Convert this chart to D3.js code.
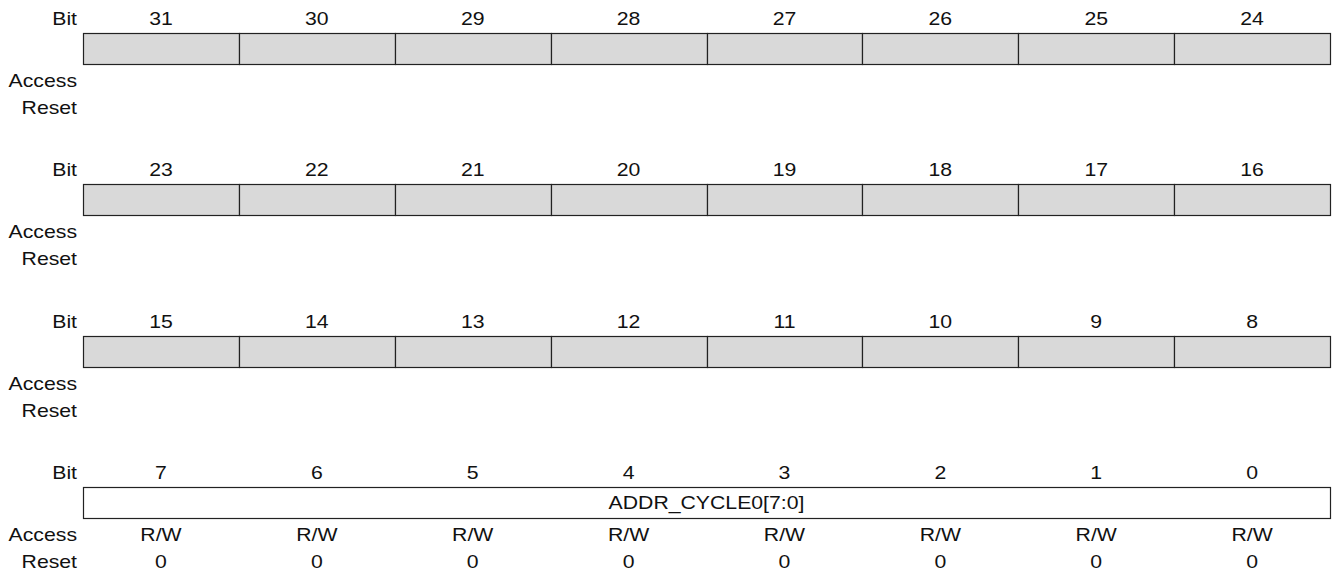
<!DOCTYPE html>
<html>
<head>
<meta charset="utf-8">
<script src="https://cdn.jsdelivr.net/npm/d3@7"></script>
<style>
  html, body { margin: 0; padding: 0; background: #fff; }
  svg { display: block; font-family: "Liberation Sans", Arial, sans-serif; }
</style>
</head>
<body>
<svg id="chart" width="1333" height="575"></svg>
<script>
// ---- data ----
const rowLabels = ["Bit", "Access", "Reset"];
const byteRows = [0, 1, 2, 3];                 // section index (top to bottom)
const bitNumbers = [
  [31, 30, 29, 28, 27, 26, 25, 24],
  [23, 22, 21, 20, 19, 18, 17, 16],
  [15, 14, 13, 12, 11, 10, 9, 8],
  [7, 6, 5, 4, 3, 2, 1, 0]
];
// fields per section: name, start column, span; reserved = gray unused cell
const reservedRow = [0, 1, 2, 3, 4, 5, 6, 7].map(c => ({name: "", col: c, span: 1, reserved: true}));
const fields = [
  reservedRow,
  reservedRow,
  reservedRow,
  [{name: "ADDR_CYCLE0[7:0]", col: 0, span: 8, reserved: false}]
];
const accessValues = [
  ["", "", "", "", "", "", "", ""],
  ["", "", "", "", "", "", "", ""],
  ["", "", "", "", "", "", "", ""],
  ["R/W", "R/W", "R/W", "R/W", "R/W", "R/W", "R/W", "R/W"]
];
const resetValues = [
  ["", "", "", "", "", "", "", ""],
  ["", "", "", "", "", "", "", ""],
  ["", "", "", "", "", "", "", ""],
  ["0", "0", "0", "0", "0", "0", "0", "0"]
];

// ---- layout ----
const svg = d3.select("#chart");
const left = 83, right = 1330;
const labelX = 77;
const fontSize = 18;
const sx = 1.18;          // horizontal stretch of glyphs seen in the reference
const boxH = 31;

const x = d3.scaleBand().domain(d3.range(8)).range([left, right]).paddingInner(0).paddingOuter(0);
const ySection = d3.scaleLinear().domain([0, 3]).range([33, 487]);   // box top per section

function addText(sel, tx, ty, anchor, str) {
  sel.append("text")
    .attr("transform", `translate(${tx},${ty}) scale(${sx},1)`)
    .attr("text-anchor", anchor)
    .attr("font-size", fontSize).attr("fill", "#111")
    .text(str);
}

const g = svg.append("g");

byteRows.forEach(s => {
  const top = Math.round(ySection(s));
  const sec = g.append("g");

  const labelYs = [top - 8, top + boxH + 23, top + boxH + 50];
  rowLabels.forEach((lbl, i) => addText(sec, labelX, labelYs[i], "end", lbl));

  // bit numbers
  bitNumbers[s].forEach((d, i) => addText(sec, x(i) + x.bandwidth() / 2, labelYs[0], "middle", d));

  // small divider ticks under merged fields
  fields[s].filter(f => f.span > 1).forEach(f => {
    sec.selectAll(null).data(d3.range(f.col + 1, f.col + f.span)).join("line")
      .attr("x1", i => Math.round(x(i)) + 0.5).attr("x2", i => Math.round(x(i)) + 0.5)
      .attr("y1", top).attr("y2", top + 3)
      .attr("stroke", "#aaa").attr("stroke-width", 1);
  });

  // field cells
  sec.selectAll("rect.field").data(fields[s]).join("rect")
    .attr("class", "field")
    .attr("x", f => Math.round(x(f.col)) + 0.5)
    .attr("y", top + 0.5)
    .attr("width", f => Math.round(x(f.col) + x.bandwidth() * f.span) - Math.round(x(f.col)))
    .attr("height", boxH)
    .attr("fill", f => f.reserved ? "#d9d9d9" : "#fff")
    .attr("stroke", "#222").attr("stroke-width", 1.2);

  fields[s].filter(f => f.name).forEach(f =>
    addText(sec, x(f.col) + x.bandwidth() * f.span / 2, top + 22, "middle", f.name));

  // access and reset values
  accessValues[s].forEach((d, i) => { if (d) addText(sec, x(i) + x.bandwidth() / 2, labelYs[1], "middle", d); });
  resetValues[s].forEach((d, i) => { if (d) addText(sec, x(i) + x.bandwidth() / 2, labelYs[2], "middle", d); });
});
</script>
</body>
</html>
